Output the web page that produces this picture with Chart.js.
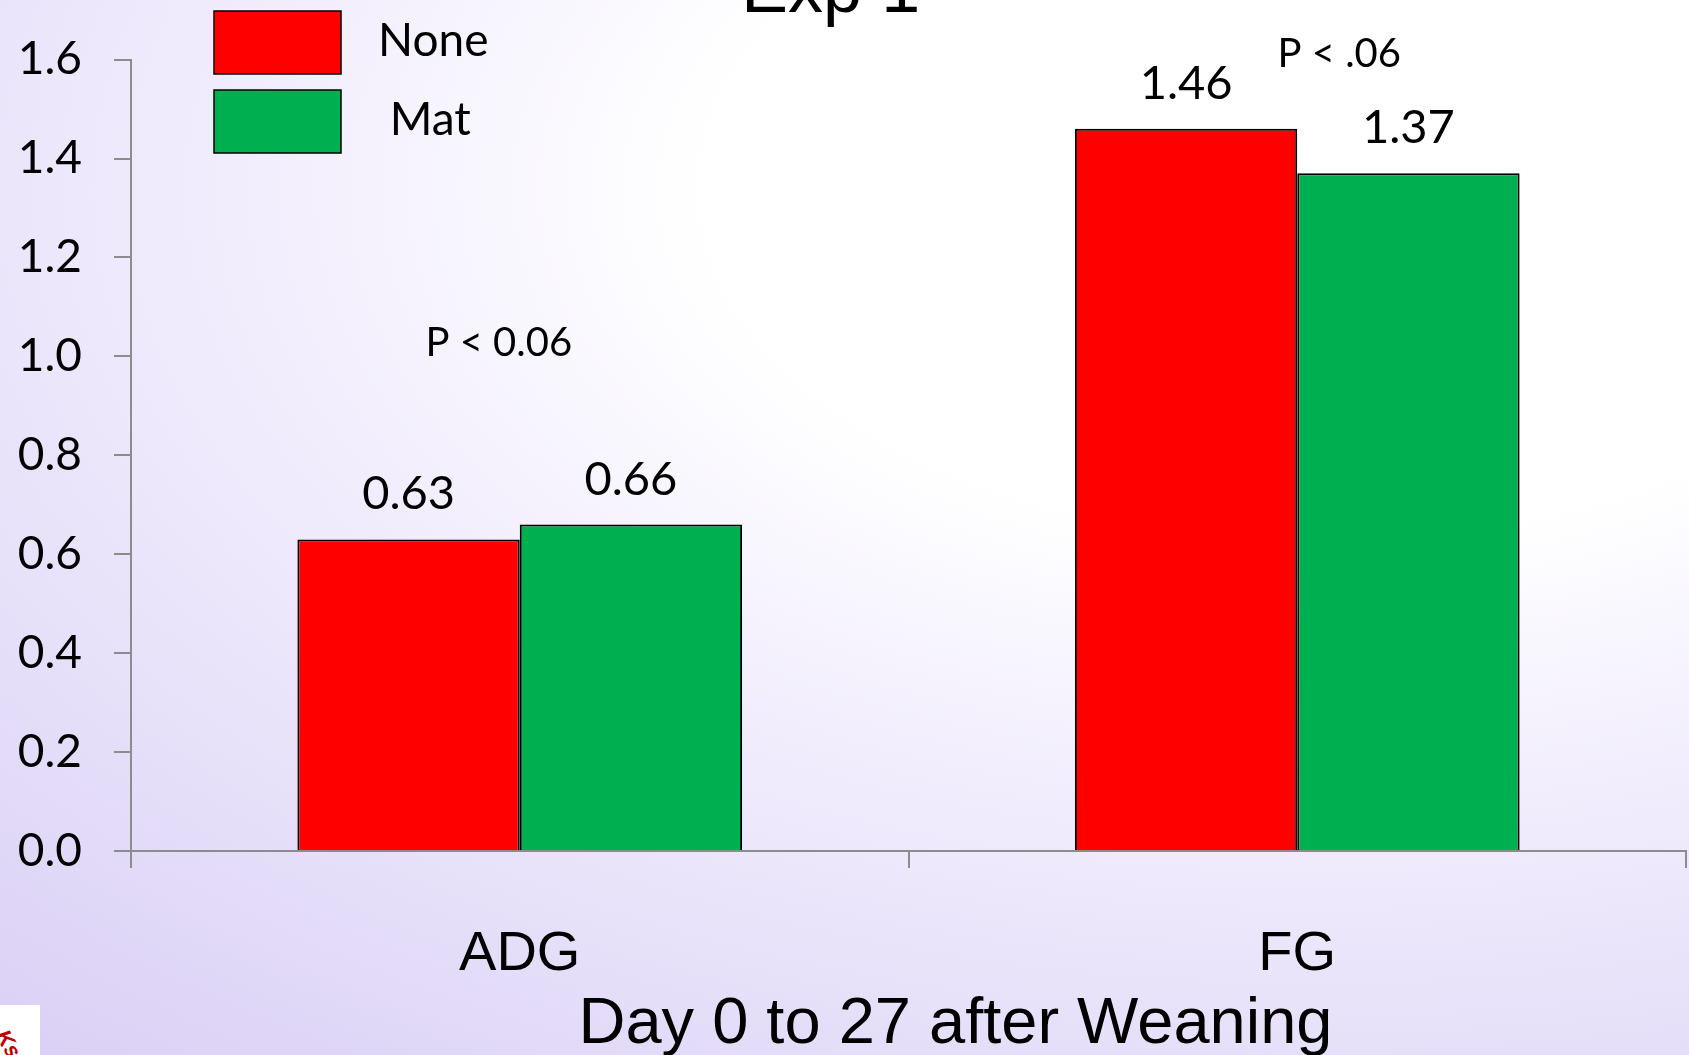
<!DOCTYPE html>
<html>
<head>
<meta charset="utf-8">
<script src="https://cdn.jsdelivr.net/npm/chart.js@4.4.0/dist/chart.umd.min.js"></script>
<style>
    html, body { margin: 0; padding: 0; }
    body {
        width: 1689px; height: 1055px; overflow: hidden;
        background: radial-gradient(ellipse 120% 110% at 78% 18%, #ffffff 0%, #ffffff 30%, #f2eefd 52%, #e6dff9 75%, #d9cff5 100%);
    }
    #wrap { position: absolute; left: 0; top: 0; width: 1689px; height: 1055px; }
    #logo { position: absolute; left: 0; top: 1005px; width: 40px; height: 50px; background: #fff; overflow: hidden; }
    #logo span { position: absolute; left: -6px; top: 26px; color: #c00000; font: italic bold 22px "Liberation Sans"; transform: rotate(60deg); }
</style>
</head>
<body>
<div id="wrap"><canvas id="grafico"></canvas></div>
<div id="logo"><span>Ks</span></div>
<script>
// Datos
const categorias = ['ADG', 'FG'];
const etiquetasSerie = ['None', ' Mat'];
const valoresNone = [0.63, 1.46];
const valoresMat = [0.66, 1.37];
const coloresSerie = ['#ff0000', '#00b050'];
const ticksY = [0, 0.2, 0.4, 0.6, 0.8, 1.0, 1.2, 1.4, 1.6];
const textosP = ['P < 0.06', 'P < .06'];
const tituloGrafico = 'Exp 1';
const tituloEjeX = 'Day 0 to 27 after Weaning';

const fuenteCalibri = 'Lato, "Open Sans", sans-serif';
const fuenteArial = '"Liberation Sans", Arial, sans-serif';

// Textos, etiquetas de valores y leyenda
const anotaciones = {
    id: 'anotaciones',
    afterDraw(chart) {
        const ctx = chart.ctx;
        const x = chart.scales.x;
        const y = chart.scales.y;
        const area = chart.chartArea;
        ctx.save();
        ctx.fillStyle = '#000';

        // valores encima de las barras
        ctx.font = '47px ' + fuenteCalibri;
        ctx.textAlign = 'center';
        ctx.textBaseline = 'alphabetic';
        chart.data.datasets.forEach((ds, i) => {
            chart.getDatasetMeta(i).data.forEach((bar, j) => {
                ctx.fillText(ds.data[j].toFixed(2), bar.x, bar.y - 30);
            });
        });

        // valores P
        ctx.font = '40px ' + fuenteCalibri;
        ctx.fillText(textosP[0], x.getPixelForValue(-0.027), y.getPixelForValue(1.0) );
        ctx.fillText(textosP[1], x.getPixelForValue(1.054), y.getPixelForValue(1.585));

        // titulo (cortado arriba)
        ctx.font = '70px ' + fuenteArial;
        ctx.fillText(tituloGrafico, x.getPixelForValue(0.4), 12);

        // titulo eje X
        ctx.font = '65px ' + fuenteArial;
        ctx.textBaseline = 'middle';
        ctx.fillText(tituloEjeX, (area.left + area.right) / 2 + 47, 1025);

        // leyenda
        ctx.font = '46px ' + fuenteCalibri;
        ctx.textAlign = 'left';
        chart.data.datasets.forEach((ds, i) => {
            const bx = area.left + 83;
            const by = 11 + i * 79;
            ctx.fillStyle = ds.backgroundColor;
            ctx.fillRect(bx, by, 127, 63);
            ctx.strokeStyle = '#000';
            ctx.lineWidth = 1.5;
            ctx.strokeRect(bx, by, 127, 63);
            ctx.fillStyle = '#000';
            ctx.fillText(ds.label, bx + 164, by + 30);
        });
        ctx.restore();
    }
};

const grafico = new Chart(document.getElementById('grafico').getContext('2d'), {
    type: 'bar',
    data: {
        labels: categorias,
        datasets: [
            {
                label: etiquetasSerie[0],
                data: valoresNone,
                backgroundColor: coloresSerie[0],
                borderColor: '#000',
                borderWidth: 2
            },
            {
                label: etiquetasSerie[1],
                data: valoresMat,
                backgroundColor: coloresSerie[1],
                borderColor: '#000',
                borderWidth: 2
            }
        ]
    },
    options: {
        responsive: true,
        maintainAspectRatio: false,
        animation: false,
        layout: { padding: { top: 56, right: 3, left: 0, bottom: 0 } },
        datasets: { bar: { barPercentage: 1, categoryPercentage: 0.572 } },
        plugins: {
            legend: { display: false },
            title: { display: false },
            tooltip: { enabled: false }
        },
        scales: {
            x: {
                grid: { display: true, drawOnChartArea: false, offset: true, tickLength: 17, color: '#8c8c8c', lineWidth: 2 },
                border: { color: '#8c8c8c', width: 2 },
                ticks: { color: '#000', padding: 53, font: { family: fuenteArial, size: 56 } },
                afterFit: (scale) => { scale.height = 204; }
            },
            y: {
                min: 0,
                max: 1.6,
                afterBuildTicks: (scale) => { scale.ticks = ticksY.map(v => ({ value: v })); },
                grid: { display: true, drawOnChartArea: false, tickLength: 17, color: '#8c8c8c', lineWidth: 2 },
                border: { color: '#8c8c8c', width: 2 },
                ticks: { color: '#000', padding: 32, font: { family: fuenteCalibri, size: 46 },
                    callback: (v) => Number(v).toFixed(1) },
                afterFit: (scale) => { scale.width = 131; }
            }
        }
    },
    plugins: [anotaciones]
});
</script>
</body>
</html>
